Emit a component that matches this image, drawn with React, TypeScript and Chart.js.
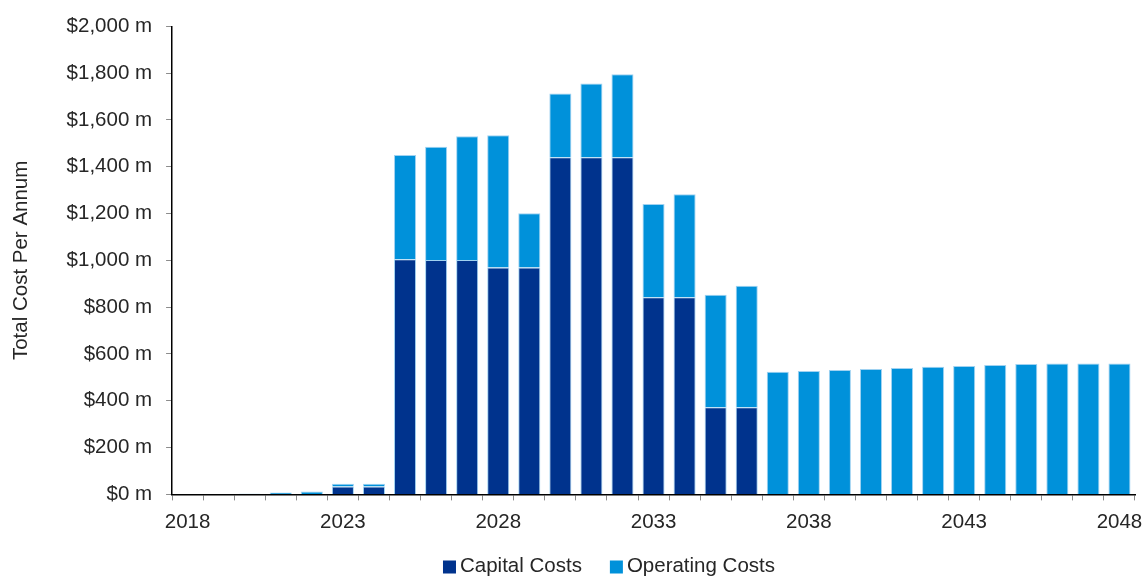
import React, { useEffect, useRef } from "react";
import { Chart, registerables } from "chart.js";

Chart.register(...registerables);

const years: string[] = [
  "2018", "2019", "2020", "2021", "2022", "2023", "2024", "2025", "2026", "2027",
  "2028", "2029", "2030", "2031", "2032", "2033", "2034", "2035", "2036", "2037",
  "2038", "2039", "2040", "2041", "2042", "2043", "2044", "2045", "2046", "2047", "2048",
];

const capitalCosts: number[] = [
  0, 0, 0, 0, 0, 34, 34, 1005, 1001, 1001,
  969, 969, 1440, 1440, 1440, 842, 842, 372, 372, 0,
  0, 0, 0, 0, 0, 0, 0, 0, 0, 0, 0,
];

const operatingCosts: number[] = [
  0, 0, 3, 8, 12, 11, 11, 445, 484, 529,
  565, 232, 273, 316, 355, 399, 440, 481, 520, 524,
  527, 532, 536, 540, 545, 549, 553, 557, 559, 559, 559,
];

const labeledYears: string[] = ["2018", "2023", "2028", "2033", "2038", "2043", "2048"];

const FONT = "'Liberation Sans', Arial, sans-serif";
const FONT_SIZE = 20.5;
const TEXT = "#262626";

// Legend drawn on the chart canvas below the x axis
const bottomLegend = {
  id: "bottomLegend",
  afterDraw(chart: any) {
    const ctx = chart.ctx as CanvasRenderingContext2D;
    const box = 13;
    const textGap = 4;
    const itemGap = 28;
    const centerX = 609;
    const centerY = 566;
    ctx.save();
    ctx.font = `${FONT_SIZE}px ${FONT}`;
    ctx.textBaseline = "middle";
    ctx.textAlign = "left";
    const items = chart.data.datasets.map((ds: any) => ({
      text: ds.label as string,
      color: ds.backgroundColor as string,
      w: box + textGap + ctx.measureText(ds.label).width,
    }));
    const total = items.reduce((s: number, it: any) => s + it.w, 0) + itemGap * (items.length - 1);
    let x = centerX - total / 2;
    for (const it of items) {
      ctx.fillStyle = it.color;
      ctx.fillRect(x, centerY - box / 2 + 1, box, box);
      ctx.fillStyle = TEXT;
      ctx.fillText(it.text, x + box + textGap, centerY);
      x += it.w + itemGap;
    }
    ctx.restore();
  },
};

export default function App() {
  const ref = useRef<HTMLCanvasElement | null>(null);

  useEffect(() => {
    if (!ref.current) return;
    const chart = new Chart(ref.current, {
      type: "bar",
      data: {
        labels: years,
        datasets: [
          {
            label: "Capital Costs",
            data: capitalCosts,
            backgroundColor: "#00338D",
            borderColor: "rgba(150,205,240,0.9)",
            borderWidth: 1,
          },
          {
            label: "Operating Costs",
            data: operatingCosts,
            backgroundColor: "#0091DA",
            borderColor: "rgba(150,205,240,0.9)",
            borderWidth: 1,
          },
        ],
      },
      plugins: [bottomLegend],
      options: {
        responsive: false,
        animation: false,
        maintainAspectRatio: false,
        datasets: { bar: { categoryPercentage: 1, barPercentage: 0.71 } },
        layout: { padding: { left: 9, right: 11, top: 14, bottom: 31 } },
        plugins: {
          tooltip: { enabled: false },
          legend: { display: false },
        },
        scales: {
          x: {
            stacked: true,
            offset: true,
            afterFit: (scale: any) => {
              scale.paddingRight = 0;
            },
            grid: {
              offset: true,
              drawOnChartArea: false,
              drawTicks: true,
              tickLength: 6,
              color: "#8c8c8c",
            },
            border: { color: "#000", width: 1.5 },
            ticks: {
              autoSkip: false,
              maxRotation: 0,
              padding: 10,
              color: TEXT,
              font: { family: FONT, size: FONT_SIZE },
              callback: (_v: any, i: number) =>
                labeledYears.includes(years[i]) ? years[i] : "",
            },
          },
          y: {
            stacked: true,
            min: 0,
            max: 2000,
            grid: {
              drawOnChartArea: false,
              drawTicks: true,
              tickLength: 6,
              color: "#8c8c8c",
            },
            border: { color: "#000", width: 1.5 },
            ticks: {
              stepSize: 200,
              padding: 14,
              color: TEXT,
              font: { family: FONT, size: FONT_SIZE },
              callback: (v: any) => "$" + Number(v).toLocaleString("en-US") + " m",
            },
            title: {
              display: true,
              text: "Total Cost Per Annum",
              color: TEXT,
              font: { family: FONT, size: FONT_SIZE },
              padding: { top: 0, bottom: 19 },
            },
          },
        },
      },
    });
    return () => chart.destroy();
  }, []);

  return (
    <div style={{ position: "absolute", left: 0, top: 0, width: 1146, height: 576, overflow: "hidden", background: "#fff" }}>
      <canvas ref={ref} width={1146} height={576} style={{ display: "block" }} />
    </div>
  );
}
